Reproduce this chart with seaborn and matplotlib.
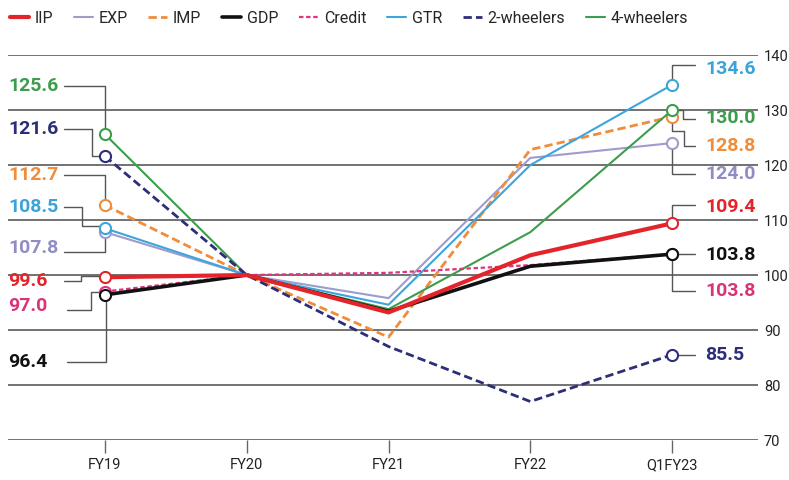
import numpy as np
import pandas as pd
import matplotlib
matplotlib.use("Agg")
import matplotlib.pyplot as plt
import seaborn as sns

# ---- data ----
periods = ["FY19", "FY20", "FY21", "FY22", "Q1FY23"]
iip = [99.6, 100, 93.2, 103.6, 109.4]
exp_ = [107.8, 100, 95.8, 121.3, 124.0]
imp = [112.7, 100, 88.7, 122.8, 128.8]
gdp = [96.4, 100, 93.4, 101.6, 103.8]
credit = [97.0, 100, 100.4, 101.8, 103.8]
gtr = [108.5, 100, 94.6, 120.0, 134.6]
two_w = [121.6, 100, 87.0, 77.0, 85.5]
four_w = [125.6, 100, 93.8, 107.8, 130.0]

series_names = ["IIP", "EXP", "IMP", "GDP", "Credit", "GTR", "2-wheelers", "4-wheelers"]
series_vals = [iip, exp_, imp, gdp, credit, gtr, two_w, four_w]

# ---- styles ----
colors = {"IIP": "#e3242b", "EXP": "#9d9ccc", "IMP": "#f08c3a", "GDP": "#111111",
          "Credit": "#e0337f", "GTR": "#3da5dc", "2-wheelers": "#2c2e78",
          "4-wheelers": "#3c9d4c"}
widths = {"IIP": 3.0, "EXP": 1.5, "IMP": 2.0, "GDP": 2.6, "Credit": 1.6,
          "GTR": 1.5, "2-wheelers": 2.0, "4-wheelers": 1.5}
dashes = {"IIP": "-", "EXP": "-", "IMP": (0, (3, 1.5)), "GDP": "-",
          "Credit": (0, (2, 1.2)), "GTR": "-", "2-wheelers": (0, (3, 1.5)),
          "4-wheelers": "-"}
zorders = {"IIP": 9, "EXP": 4, "IMP": 5, "GDP": 8, "Credit": 7, "GTR": 5,
           "2-wheelers": 6, "4-wheelers": 5}
label_colors = {"IIP": "#e3242b", "EXP": "#8f8dc2", "IMP": "#f08c3a", "GDP": "#111111",
                "Credit": "#d9337a", "GTR": "#3aa3da", "2-wheelers": "#2c2e78",
                "4-wheelers": "#3c9d4c"}

# label placement: (text y, connector path) in data coords
left_labels = {
    "4-wheelers": (134.4, [(-0.29, 134.4), (0, 134.4), (0, 125.6)]),
    "2-wheelers": (126.5, [(-0.29, 126.5), (-0.09, 126.5), (-0.09, 121.6), (0, 121.6)]),
    "IMP": (118.2, [(-0.29, 118.2), (0, 118.2), (0, 112.7)]),
    "GTR": (112.4, [(-0.29, 112.4), (-0.16, 112.4), (-0.16, 108.9), (0, 108.9)]),
    "EXP": (104.9, [(-0.29, 104.2), (0, 104.2), (0, 107.8)]),
    "IIP": (99.0, [(-0.29, 99.0), (-0.17, 99.0), (-0.17, 99.8), (0, 99.8)]),
    "Credit": (94.3, [(-0.27, 93.6), (-0.1, 93.6), (-0.1, 97.0), (0, 97.0)]),
    "GDP": (84.2, [(-0.27, 84.2), (0.01, 84.2), (0.01, 96.4)]),
}
right_labels = {
    "GTR": (137.5, [(4, 134.6), (4, 138.2), (4.16, 138.2)]),
    "4-wheelers": (128.5, [(4, 130.0), (4.08, 130.0), (4.08, 128.4), (4.16, 128.4)]),
    "IMP": (123.5, [(4, 128.8), (4, 126.2), (4.085, 126.2), (4.085, 123.4), (4.16, 123.4)]),
    "EXP": (118.4, [(4, 124.0), (4, 118.4), (4.16, 118.4)]),
    "IIP": (112.4, [(4, 109.4), (4, 112.7), (4.16, 112.7)]),
    "GDP": (103.6, [(4, 103.9), (4.16, 103.9)]),
    "Credit": (97.1, [(4, 103.8), (4, 97.1), (4.16, 97.1)]),
    "2-wheelers": (85.5, [(4, 85.5), (4.16, 85.5)]),
}

sns.set_theme(style="white")
plt.rcParams["font.family"] = ["Roboto", "DejaVu Sans"]

fig = plt.figure(figsize=(7.89, 4.8), dpi=100)
ax = fig.add_axes([0.010, 0.0833, 0.951, 0.802])

x = np.arange(len(periods))
for name, vals in zip(series_names, series_vals):
    df = pd.DataFrame({"x": x, "y": vals})
    sns.lineplot(data=df, x="x", y="y", ax=ax, color=colors[name],
                 linewidth=widths[name], linestyle=dashes[name],
                 zorder=zorders[name], label=name,
                 marker="o", markevery=[0, 4], markersize=8,
                 markerfacecolor="white", markeredgecolor=colors[name],
                 markeredgewidth=1.5)

ax.get_legend().remove()

# labels + connectors
conn_color = "#555555"
for name, vals in zip(series_names, series_vals):
    ty, path = left_labels[name]
    px, py = zip(*path)
    ax.plot(px, py, color=conn_color, lw=1.0, zorder=2)
    ax.text(-0.684, ty, f"{vals[0]:.1f}", color=label_colors[name], fontsize=14,
            fontweight="bold", ha="left", va="center", zorder=10)
    ty, path = right_labels[name]
    px, py = zip(*path)
    ax.plot(px, py, color=conn_color, lw=1.0, zorder=2)
    ax.text(4.233, ty, f"{vals[-1]:.1f}", color=label_colors[name], fontsize=14,
            fontweight="bold", ha="left", va="center", zorder=10)

ax.set_xlim(-0.684, 4.607)
ax.set_ylim(70, 140)
ax.set_yticks(range(70, 141, 10))
ax.set_xticks(x)
ax.set_xticklabels(periods)
ax.yaxis.tick_right()
ax.grid(axis="y", color="#5a5a5a", linewidth=1.2, zorder=1)
ax.set_axisbelow(True)
for s in ax.spines.values():
    s.set_visible(False)
ax.tick_params(axis="y", length=0, pad=4, labelsize=10.5, labelcolor="#222222")
ax.tick_params(axis="x", length=9, width=1, color="#666666", direction="out",
               pad=4, labelsize=10.5, labelcolor="#222222", bottom=True)
ax.set_xlabel("")
ax.set_ylabel("")

# legend
leg_handles = []
for name in series_names:
    leg_handles.append(plt.Line2D([], [], color=colors[name], linewidth=widths[name],
                                  linestyle=dashes[name]))
fig.legend(leg_handles, series_names, loc="upper left", bbox_to_anchor=(0.0, 0.997),
           ncol=8, frameon=False, fontsize=11.5, handlelength=1.2, handletextpad=0.35,
           columnspacing=1.3, borderaxespad=0.2)

fig.savefig("out.png", dpi=100, facecolor="white")
